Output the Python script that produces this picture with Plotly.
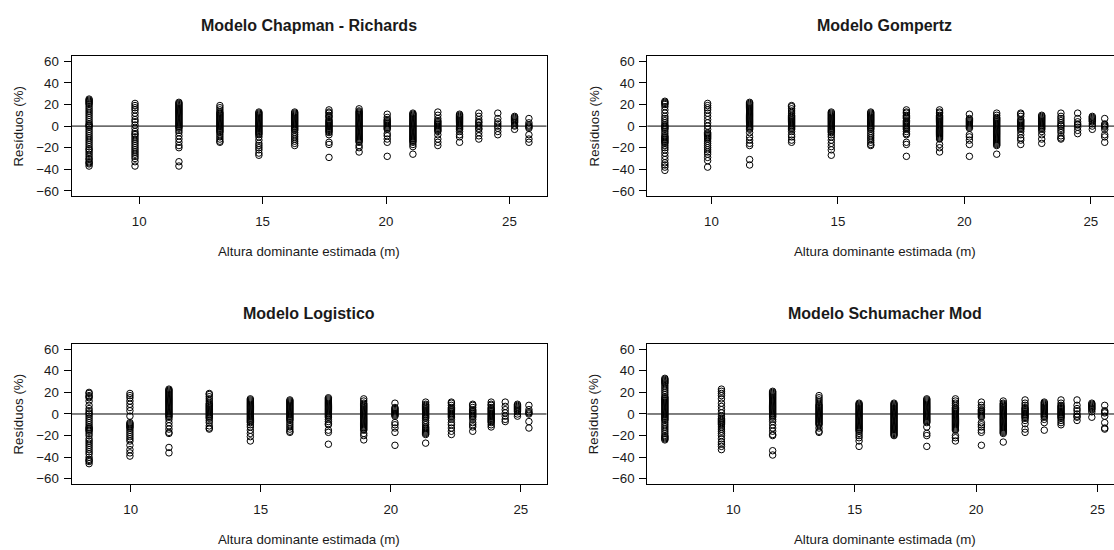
import plotly.graph_objects as go

# ---- residuals (%) by estimated dominant height class (m) ----
titles = ["Modelo Chapman - Richards", "Modelo Gompertz",
          "Modelo Logistico", "Modelo Schumacher Mod"]

chapman_x = [7.97, 9.83, 11.61, 13.27, 14.85, 16.3, 17.69, 18.91,
             20.05, 21.09, 22.1, 22.98, 23.76, 24.53, 25.21, 25.79]
chapman_res = [
    [25, 24, 23, 22, 21, 20, 18, 16, 14, 12, 10, 8, 6, 4, 2, 1, 0, -1, -3, -5, -7, -9, -11, -13,
     -15, -17, -19, -21, -22, -24, -26, -28, -30, -31, -33, -34, -35, -37],
    [21, 19, 17, 15, 12, 9, 6, 4, 1, -2, -5, -7, -8, -10, -12, -14, -16, -18, -20, -22, -24,
     -26, -28, -30, -33, -37],
    [22, 21, 20, 19, 18, 17, 16, 15, 14, 13, 12, 11, 10, 9, 8, 7, 6, 5, 4, 3, 2, 1, 0, -1, -2,
     -4, -6, -9, -12, -15, -18, -20, -33, -37],
    [19, 17, 15, 13, 12, 11, 10, 9, 8, 7, 6, 5, 4, 3, 2, 1, 0, -1, -2, -3, -4, -5, -6, -8, -10,
     -12, -14, -15],
    [13, 12, 11, 10, 9, 8, 7, 6, 5, 4, 3, 2, 1, 0, -1, -2, -3, -4, -5, -6, -7, -8, -10, -13,
     -16, -18, -20, -22, -25, -27],
    [13, 12, 11, 10, 9, 8, 7, 6, 5, 4, 3, 2, 1, 0, -1, -2, -3, -4, -6, -8, -10, -12, -14, -16, -18],
    [15, 13, 12, 10, 9, 8, 6, 5, 4, 3, 2, 1, 0, -1, -2, -3, -4, -5, -6, -8, -15, -17, -29],
    [16, 14, 13, 12, 11, 10, 9, 8, 7, 6, 5, 4, 3, 2, 1, 0, -1, -2, -3, -4, -5, -6, -7, -8, -9,
     -10, -11, -12, -13, -14, -15, -18, -20, -24],
    [11, 8, 6, 5, 4, 3, 2, 1, 0, -1, -2, -3, -7, -9, -12, -15, -28],
    [12, 11, 10, 9, 8, 7, 6, 5, 4, 3, 2, 1, 0, -1, -2, -3, -4, -5, -6, -7, -8, -9, -10, -11,
     -12, -13, -14, -15, -17, -19, -26],
    [13, 10, 7, 5, 4, 3, 2, 1, 0, -1, -2, -3, -4, -5, -8, -12, -15, -18],
    [11, 10, 9, 8, 7, 6, 5, 4, 3, 2, 1, 0, -1, -2, -3, -5, -8, -10, -15],
    [12, 9, 6, 4, 3, 1, 0, -2, -3, -6, -9, -12],
    [12, 7, 4, 2, 0, -2, -5, -8],
    [9, 8, 7, 6, 5, 4, 3, 1, 0, -3],
    [7, 3, 1, 0, -1, -2, -8, -12, -15],
]

gompertz_x = [8.16, 9.85, 11.51, 13.17, 14.74, 16.3, 17.71, 19.02,
              20.2, 21.28, 22.23, 23.06, 23.82, 24.48, 25.06, 25.55]
gompertz_res = [
    [23, 22, 21, 20, 18, 15, 12, 9, 7, 5, 3, 1, 0, -1, -2, -3, -5, -7, -9, -10, -11, -12, -13,
     -14, -15, -16, -18, -20, -22, -25, -28, -31, -34, -36, -38, -41],
    [21, 19, 17, 15, 12, 9, 6, 3, 0, -3, -6, -7, -8, -9, -10, -11, -12, -14, -16, -18, -20,
     -22, -24, -26, -29, -32, -38],
    [22, 21, 20, 19, 18, 17, 16, 15, 14, 13, 12, 11, 10, 9, 8, 7, 6, 5, 4, 3, 2, 1, 0, -1, -2,
     -3, -6, -10, -13, -16, -18, -31, -36],
    [19, 18, 16, 14, 12, 10, 9, 8, 7, 6, 5, 4, 3, 2, 1, 0, -1, -2, -3, -5, -8, -10, -13, -15],
    [13, 12, 11, 10, 9, 8, 7, 6, 5, 4, 3, 2, 1, 0, -1, -2, -3, -4, -5, -6, -8, -10, -13, -16,
     -19, -22, -27],
    [13, 12, 11, 10, 9, 8, 7, 6, 5, 4, 3, 2, 1, 0, -1, -2, -3, -5, -7, -9, -11, -13, -15, -17, -18],
    [15, 13, 12, 10, 9, 8, 7, 5, 4, 3, 2, 1, 0, -1, -2, -3, -5, -7, -8, -15, -17, -28],
    [15, 13, 12, 10, 9, 8, 7, 6, 5, 4, 3, 2, 1, 0, -1, -2, -3, -4, -5, -6, -7, -8, -9, -10,
     -11, -12, -17, -20, -24],
    [11, 7, 6, 5, 4, 3, 2, 1, 0, -1, -2, -8, -10, -13, -17, -28],
    [12, 10, 8, 7, 6, 5, 4, 3, 2, 1, 0, -1, -2, -3, -4, -5, -6, -7, -8, -9, -10, -11, -12,
     -13, -14, -15, -16, -17, -18, -26],
    [12, 11, 9, 6, 5, 4, 3, 2, 1, 0, -1, -2, -3, -5, -8, -11, -13, -17],
    [10, 9, 8, 7, 6, 5, 4, 3, 2, 1, 0, -1, -2, -3, -5, -8, -12, -16],
    [12, 9, 7, 5, 3, 1, 0, -2, -4, -6, -9, -11, -12],
    [12, 7, 4, 2, 1, -1, -4, -7],
    [9, 8, 7, 6, 5, 4, 2, 0, -3],
    [7, 2, 1, 0, -1, -3, -8, -10, -15],
]

logistico_x = [8.4, 9.97, 11.47, 13.02, 14.6, 16.12, 17.6, 18.96,
               20.16, 21.34, 22.33, 23.15, 23.86, 24.4, 24.87, 25.31]
logistico_res = [
    [20, 19, 17, 16, 15, 12, 8, 5, 3, 1, 0, -2, -4, -6, -8, -10, -12, -13, -14, -15, -16, -18,
     -20, -23, -25, -27, -29, -31, -33, -35, -37, -40, -42, -43, -44, -46],
    [19, 17, 15, 12, 9, 6, 3, -2, -8, -9, -10, -11, -12, -13, -15, -17, -19, -21, -23, -25,
     -29, -33, -36, -39],
    [23, 22, 21, 20, 19, 18, 17, 16, 15, 14, 13, 12, 11, 10, 9, 8, 7, 6, 5, 4, 3, 2, 1, 0, -1,
     -2, -3, -5, -8, -11, -14, -17, -18, -31, -36],
    [19, 18, 16, 14, 12, 10, 9, 8, 7, 6, 5, 4, 3, 2, 1, 0, -1, -2, -3, -4, -6, -8, -11, -13, -14],
    [14, 13, 12, 11, 10, 9, 8, 7, 6, 5, 4, 3, 2, 1, 0, -1, -2, -3, -4, -5, -6, -7, -8, -10,
     -12, -15, -18, -21, -25],
    [13, 12, 11, 10, 9, 8, 7, 6, 5, 4, 3, 2, 1, 0, -1, -2, -3, -4, -5, -6, -8, -10, -12, -14,
     -16, -17],
    [15, 14, 13, 12, 11, 10, 9, 8, 7, 6, 5, 4, 3, 2, 1, 0, -1, -2, -3, -5, -7, -9, -10, -15,
     -17, -28],
    [14, 12, 10, 9, 8, 7, 6, 5, 4, 3, 2, 1, 0, -1, -2, -3, -4, -5, -6, -7, -8, -9, -10, -11,
     -12, -13, -14, -15, -18, -20, -24],
    [10, 6, 5, 4, 3, 2, 1, 0, -1, -2, -8, -10, -13, -17, -29],
    [11, 9, 8, 7, 6, 5, 4, 3, 2, 1, 0, -1, -2, -3, -4, -6, -8, -10, -12, -13, -14, -15, -16,
     -17, -18, -19, -27],
    [11, 10, 8, 6, 5, 4, 3, 2, 1, 0, -1, -2, -3, -5, -8, -10, -13, -16, -19],
    [9, 8, 6, 4, 3, 2, 1, 0, -1, -2, -3, -5, -8, -10, -12, -16],
    [11, 9, 8, 6, 5, 4, 3, 2, 1, 0, -1, -2, -3, -4, -5, -6, -7, -8, -10, -12],
    [11, 7, 4, 1, -2, -5, -7],
    [9, 8, 7, 6, 5, 4, 3, 2, 0, -2],
    [8, 4, 2, 1, 0, -7, -13],
]

schumacher_x = [7.18, 9.51, 11.62, 13.53, 15.18, 16.62, 17.97, 19.15,
                20.22, 21.12, 22.02, 22.81, 23.5, 24.16, 24.77, 25.3]
schumacher_res = [
    [33, 32, 31, 30, 29, 28, 26, 24, 22, 20, 18, 16, 15, 14, 13, 12, 11, 10, 9, 8, 7, 6, 5, 4,
     3, 2, 1, 0, -1, -2, -3, -4, -5, -6, -8, -10, -12, -14, -16, -18, -20, -21, -22, -23, -24],
    [23, 21, 19, 17, 14, 10, 7, 4, 1, -2, -4, -5, -6, -7, -8, -9, -10, -12, -14, -16, -18, -20,
     -23, -26, -28, -30, -33],
    [21, 20, 19, 18, 17, 16, 15, 14, 13, 12, 11, 10, 9, 8, 7, 6, 5, 4, 3, 2, 1, 0, -1, -2, -3,
     -5, -7, -10, -13, -16, -19, -20, -34, -38],
    [17, 15, 13, 11, 9, 8, 7, 6, 5, 4, 3, 2, 1, 0, -1, -2, -3, -4, -5, -6, -7, -8, -9, -10,
     -13, -16, -17],
    [10, 9, 8, 7, 6, 5, 4, 3, 2, 1, 0, -1, -2, -3, -4, -5, -6, -7, -8, -9, -10, -11, -12, -13,
     -14, -15, -16, -18, -20, -22, -25, -30],
    [10, 9, 8, 7, 6, 5, 4, 3, 2, 1, 0, -1, -2, -3, -4, -5, -6, -7, -8, -9, -10, -11, -12, -13,
     -14, -15, -16, -17, -18, -19, -20],
    [14, 13, 12, 11, 10, 9, 8, 7, 6, 5, 4, 3, 2, 1, 0, -1, -2, -3, -4, -5, -6, -7, -8, -12,
     -18, -20, -30],
    [14, 12, 10, 8, 6, 5, 4, 3, 2, 1, 0, -1, -2, -3, -4, -5, -6, -7, -8, -9, -10, -11, -12,
     -13, -14, -15, -20, -22, -25],
    [11, 8, 6, 4, 3, 2, 1, 0, -1, -2, -3, -8, -10, -12, -15, -17, -29],
    [12, 10, 9, 8, 7, 6, 5, 4, 3, 2, 1, 0, -1, -2, -3, -4, -5, -6, -7, -8, -9, -10, -11, -12,
     -13, -14, -15, -16, -17, -18, -26],
    [13, 10, 8, 6, 5, 4, 3, 2, 1, 0, -1, -2, -3, -4, -6, -9, -14, -17],
    [11, 10, 9, 8, 7, 6, 5, 4, 3, 2, 1, 0, -1, -2, -3, -5, -8, -15],
    [13, 10, 8, 7, 6, 5, 4, 3, 2, 1, 0, -1, -2, -3, -4, -6, -8, -10],
    [13, 8, 5, 3, 0, -2, -3, -6],
    [10, 9, 8, 7, 6, 5, 4, 2, -3],
    [8, 3, 2, 1, -2, -8, -13, -14],
]

x_ticks = [10, 15, 20, 25]
y_ticks = [-60, -40, -20, 0, 20, 40, 60]
y_lim = (-60, 60)
x_title = "Altura dominante estimada (m)"
y_title = "Resíduos (%)"

# ---- page geometry (pixels) ----
W, H = 1114, 550
BOX_W, BOX_H = 475.0, 141.0
box_left = [71.5, 647.3, 71.5, 647.3]
box_top = [54.5, 54.5, 344.5, 344.5]
FONT = "Liberation Sans, Arial, sans-serif"
INK = "#1a1a1a"

models = [(chapman_x, chapman_res), (gompertz_x, gompertz_res),
          (logistico_x, logistico_res), (schumacher_x, schumacher_res)]

fig = go.Figure()
annotations = []
shapes = []

for i, (xs, res) in enumerate(models):
    n = i + 1
    xa = "x" if n == 1 else f"x{n}"
    ya = "y" if n == 1 else f"y{n}"

    px, py = [], []
    for xv, col in zip(xs, res):
        px.extend([xv] * len(col))
        py.extend(col)
    fig.add_trace(go.Scatter(
        x=px, y=py, mode="markers", xaxis=xa, yaxis=ya, showlegend=False,
        marker=dict(symbol="circle-open", size=6.5, color="black",
                    line=dict(width=1, color="black")),
        hoverinfo="skip"))

    # R-style 4% padding on the data range
    d = max(xs) - min(xs)
    lo, hi = min(xs) - 0.04 * d, max(xs) + 0.04 * d
    yd = y_lim[1] - y_lim[0]
    ylo, yhi = y_lim[0] - 0.04 * yd, y_lim[1] + 0.04 * yd

    l = box_left[i]
    r = l + BOX_W
    clipped = r > W
    if clipped:
        hi = lo + (hi - lo) * (W - l) / BOX_W
        r = W
    t = box_top[i]
    b = t + BOX_H

    axis_common = dict(showgrid=False, showline=True, linecolor="black", linewidth=1,
                       ticks="outside", ticklen=7, tickwidth=1, tickcolor="black",
                       zeroline=False,
                       tickfont=dict(family=FONT, size=13.3, color=INK))
    fig.update_layout(**{
        ("xaxis" if n == 1 else f"xaxis{n}"): dict(
            axis_common, domain=[l / W, r / W], range=[lo, hi], anchor=ya,
            tickmode="array", tickvals=x_ticks, mirror=True,
            ticklabelstandoff=6),
        ("yaxis" if n == 1 else f"yaxis{n}"): dict(
            axis_common, domain=[1 - b / H, 1 - t / H], range=[ylo, yhi], anchor=xa,
            tickmode="array", tickvals=y_ticks, mirror=not clipped,
            ticklabelstandoff=2),
    })

    # horizontal reference line at zero residual, drawn over the points
    shapes.append(dict(type="line", xref=f"{xa} domain", yref=ya, x0=0, x1=1, y0=0, y1=0,
                       line=dict(color="black", width=1), layer="above"))

    cx = (box_left[i] + BOX_W / 2) / W
    annotations.append(dict(text=f"<b>{titles[i]}</b>", x=cx, y=1 - (t - 31) / H,
                            xref="paper", yref="paper", showarrow=False,
                            xanchor="center", yanchor="middle",
                            font=dict(family=FONT, size=16, color=INK)))
    annotations.append(dict(text=x_title, x=cx, y=1 - (b + 56) / H,
                            xref="paper", yref="paper", showarrow=False,
                            xanchor="center", yanchor="middle",
                            font=dict(family=FONT, size=13.3, color=INK)))
    annotations.append(dict(text=y_title, x=(box_left[i] - 53) / W, y=1 - (t + BOX_H / 2) / H,
                            xref="paper", yref="paper", showarrow=False, textangle=-90,
                            xanchor="center", yanchor="middle",
                            font=dict(family=FONT, size=13.3, color=INK)))

fig.update_layout(width=W, height=H, margin=dict(l=0, r=0, t=0, b=0),
                  paper_bgcolor="white", plot_bgcolor="white",
                  annotations=annotations, shapes=shapes)

fig.write_html("out.html")
